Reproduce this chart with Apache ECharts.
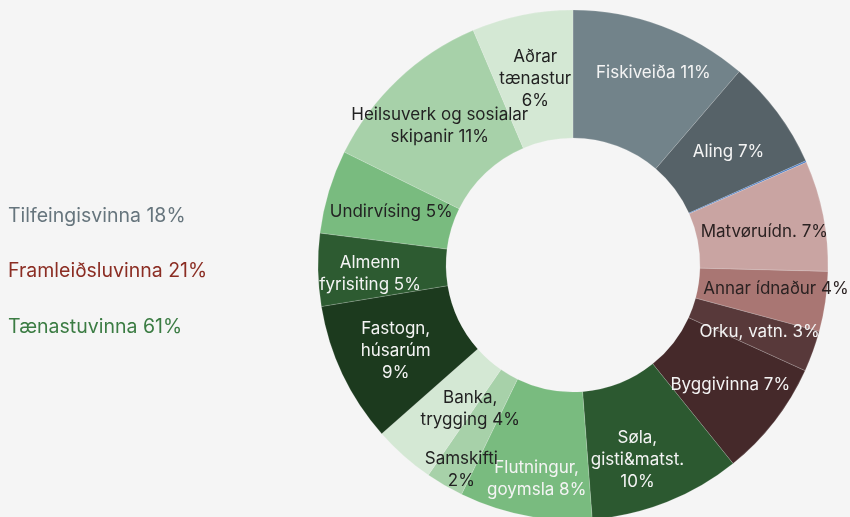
<!DOCTYPE html>
<html>
<head>
<meta charset="utf-8">
<script src="https://cdn.jsdelivr.net/npm/echarts@6/dist/echarts.min.js"></script>
<style>
  html, body { margin: 0; padding: 0; background: #f5f5f5; }
  #chart { width: 850px; height: 517px; }
</style>
</head>
<body>
<div id="chart"></div>
<script>
// Sectors of the economy, share in percent (clockwise from the top)
const sectors = [
  'Fiskiveiða', 'Aling', 'Annað tilfeingi', 'Matvøruídn.', 'Annar ídnaður',
  'Orku, vatn.', 'Byggivinna', 'Søla, gisti&matst.', 'Flutningur, goymsla',
  'Samskifti', 'Banka, trygging', 'Fastogn, húsarúm', 'Almenn fyrisiting',
  'Undirvísing', 'Heilsuverk og sosialar skipanir', 'Aðrar tænastur'
];
const shares = [11.3, 7.0, 0.1, 7.0, 3.8, 2.6, 7.4, 9.6, 8.4, 2.4, 3.9, 8.9, 4.6, 5.3, 11.3, 6.4];

// Text shown in each sector; {p} is replaced by the rounded share
const labelText = [
  'Fiskiveiða {p}', 'Aling {p}', '', 'Matvøruídn. {p}', 'Annar ídnaður {p}',
  'Orku, vatn. {p}', 'Byggivinna {p}', 'Søla,\ngisti&matst.\n{p}', 'Flutningur,\ngoymsla {p}',
  'Samskifti\n{p}', 'Banka,\ntrygging {p}', 'Fastogn,\nhúsarúm\n{p}', 'Almenn\nfyrisiting {p}',
  'Undirvísing {p}', 'Heilsuverk og sosialar\nskipanir {p}', 'Aðrar\ntænastur\n{p}'
];

// Main groups, each listing the sectors it covers
const groupNames = ['Tilfeingisvinna', 'Framleiðsluvinna', 'Tænastuvinna'];
const groupMembers = [[0, 1, 2], [3, 4, 5, 6], [7, 8, 9, 10, 11, 12, 13, 14, 15]];

// Styling
const sliceColors = [
  '#72838a', '#566268', '#4a7cc4', '#c9a4a2', '#a97673',
  '#58393a', '#45292a', '#2c5930', '#79bb7f', '#a7d1a9',
  '#d4e8d4', '#1c3a1e', '#2d5b31', '#79bb7f', '#a7d1a9', '#d4e8d4'
];
const labelColors = [
  '#f4f4f4', '#f4f4f4', '#f4f4f4', '#2b2222', '#2b2222',
  '#f4f4f4', '#f4f4f4', '#f4f4f4', '#f4f4f4', '#222222',
  '#222222', '#f4f4f4', '#f4f4f4', '#222222', '#222222', '#222222'
];
const labelNudge = [
  [13, -10], [0, 3], [0, 0], [1, 4], [11, -4],
  [4, 1], [4, 1], [-7, 15], [0, 23], [-14, 37],
  [26, -1], [-2, 3], [-9, 5], [4, 3], [0, 2], [1, 4]
];
const groupColors = ['#66757d', '#8b2d23', '#3b7c43'];

const FONT = 'Inter, "Noto Sans", sans-serif';

const total = shares.reduce((a, b) => a + b, 0);
const pct = v => Math.round(v / total * 100) + '%';

const pieData = shares.map((v, i) => ({
  name: sectors[i],
  value: v,
  itemStyle: { color: sliceColors[i] },
  label: { color: labelColors[i], show: labelText[i] !== '' }
}));

const groupGraphics = groupNames.map((g, k) => {
  const sum = groupMembers[k].reduce((a, i) => a + shares[i], 0);
  return {
    type: 'text',
    left: 8,
    top: 206 + k * 55.5,
    style: {
      text: g + ' ' + pct(sum),
      fill: groupColors[k],
      font: '19.5px ' + FONT
    }
  };
});

const chart = echarts.init(document.getElementById('chart'), null, { renderer: 'canvas' });
chart.setOption({
  backgroundColor: '#f5f5f5',
  animation: false,
  graphic: groupGraphics,
  series: [{
    type: 'pie',
    center: [573, 265],
    radius: [127, 255],
    startAngle: 90,
    clockwise: true,
    avoidLabelOverlap: false,
    data: pieData,
    itemStyle: { borderColor: 'rgba(245,245,245,0.35)', borderWidth: 0.5 },
    label: {
      position: 'inside',
      fontFamily: FONT,
      fontSize: 17,
      lineHeight: 22,
      align: 'center',
      formatter: p => labelText[p.dataIndex].replace('{p}', pct(p.value))
    },
    labelLine: { show: false },
    labelLayout: p => ({ dx: labelNudge[p.dataIndex][0], dy: labelNudge[p.dataIndex][1] }),
    emphasis: { disabled: true }
  }]
});
</script>
</body>
</html>
